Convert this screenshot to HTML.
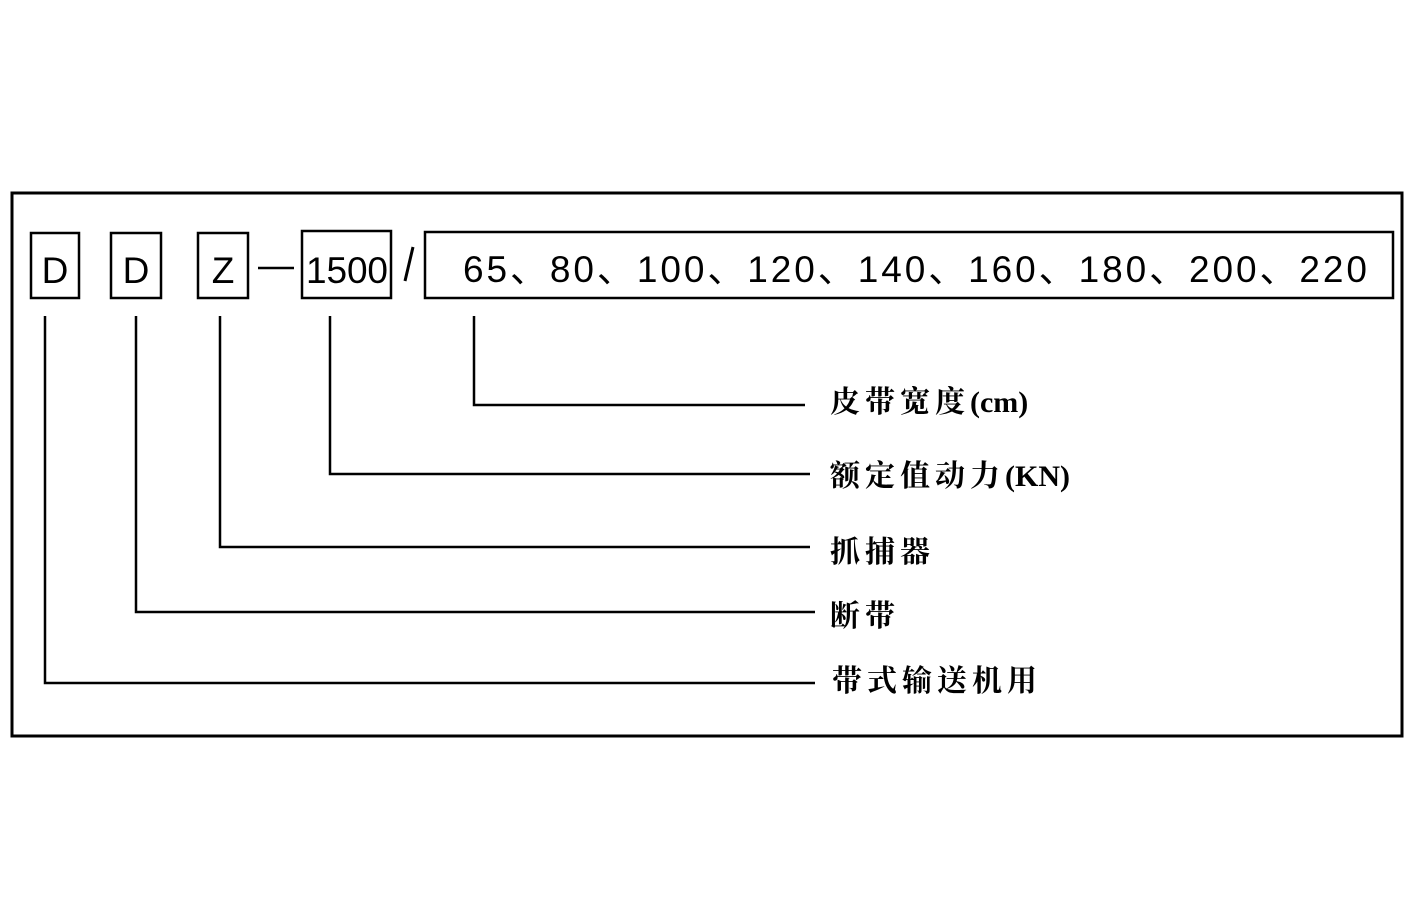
<!DOCTYPE html>
<html><head><meta charset="utf-8"><style>
body{margin:0;background:#fff;}
svg{display:block}
.t{font-family:"Liberation Sans",sans-serif;font-size:37px;fill:#000}
.c{font-family:"Liberation Serif","Noto Serif CJK SC",serif;font-size:30px;font-weight:bold;fill:#000;letter-spacing:5px}
.c tspan{letter-spacing:0}
</style></head><body>
<svg width="1416" height="924" viewBox="0 0 1416 924">
<g fill="none" stroke="#000">
<rect x="12" y="193" width="1390" height="543" stroke-width="3"/>
<rect x="31" y="233" width="48" height="65" stroke-width="2.5"/>
<rect x="111" y="233" width="50" height="65" stroke-width="2.5"/>
<rect x="198" y="233" width="50" height="65" stroke-width="2.5"/>
<rect x="302" y="231" width="89" height="67" stroke-width="2.5"/>
<rect x="425" y="232" width="968" height="66" stroke-width="2.5"/>
<line x1="258" y1="268" x2="294" y2="268" stroke-width="2.5"/>
<line x1="413" y1="247" x2="405" y2="281" stroke-width="3"/>
<g stroke-width="2.5">
<polyline points="474,316 474,405 805,405"/>
<polyline points="330,316 330,474 810,474"/>
<polyline points="220,316 220,547 810,547"/>
<polyline points="136,316 136,612 815,612"/>
<polyline points="45,316 45,683 815,683"/>
</g>
</g>
<text class="t" x="55" y="283" text-anchor="middle">D</text>
<text class="t" x="136" y="283" text-anchor="middle">D</text>
<text class="t" x="223" y="283" text-anchor="middle">Z</text>
<text class="t" x="347" y="283" text-anchor="middle" textLength="82">1500</text>
<text class="t" x="463" y="282" textLength="904" lengthAdjust="spacing">65、80、100、120、140、160、180、200、220</text>
<text class="c" x="830" y="412">皮带宽度<tspan>(cm)</tspan></text>
<text class="c" x="830" y="486">额定值动力<tspan>(KN)</tspan></text>
<text class="c" x="830" y="562">抓捕器</text>
<text class="c" x="830" y="626">断带</text>
<text class="c" x="832" y="691">带式输送机用</text>
</svg>
</body></html>
